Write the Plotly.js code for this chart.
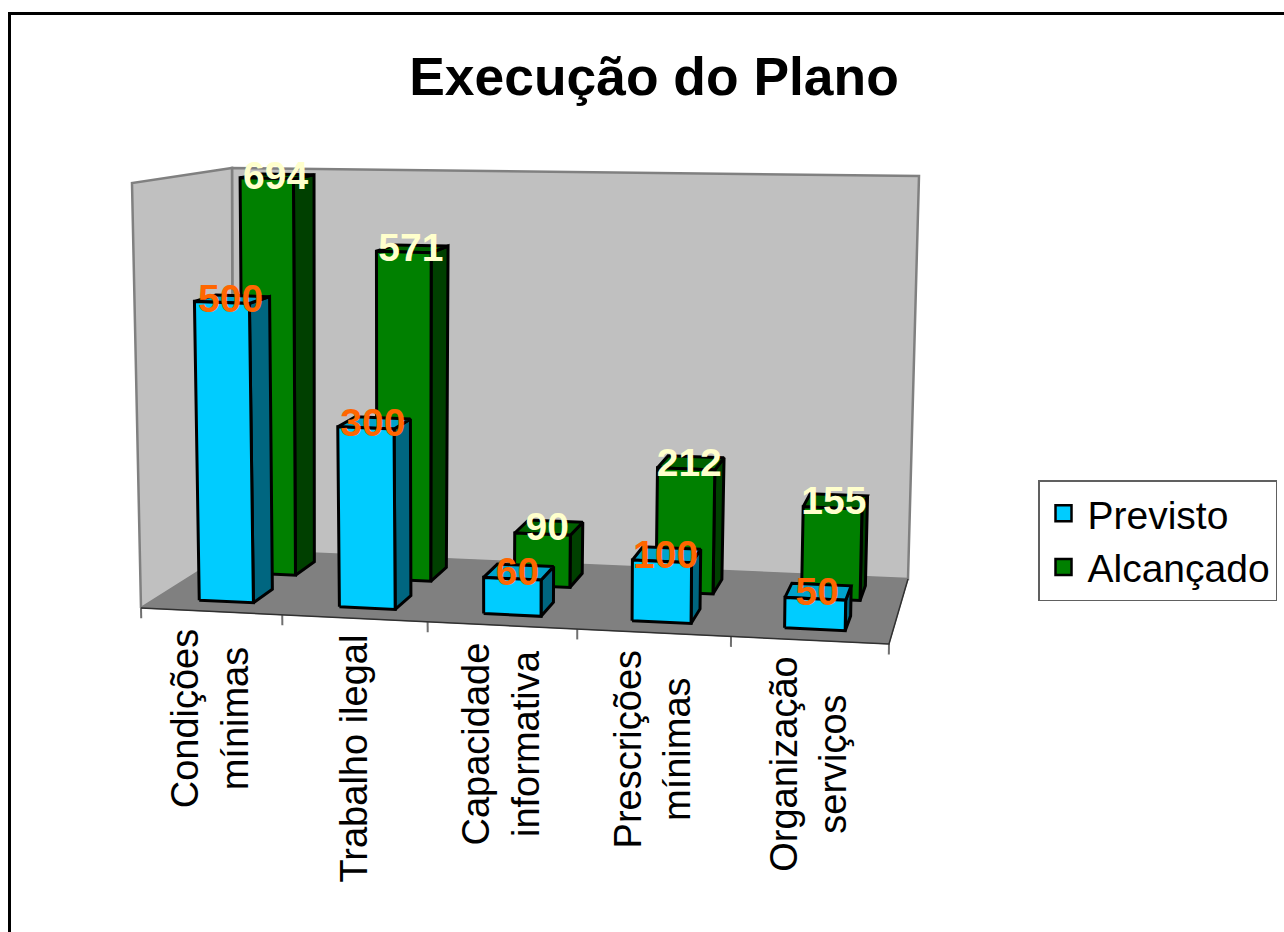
<!DOCTYPE html>
<html><head><meta charset="utf-8">
<script src="https://cdn.plot.ly/plotly-3.0.1.min.js"></script>
<style>html,body{margin:0;padding:0;background:#fff;overflow:hidden}</style>
</head><body><div id="chart" style="width:1284px;height:932px"></div>
<script>
const categories = ['Condições<br>mínimas','Trabalho ilegal','Capacidade<br>informativa','Prescrições<br>mínimas','Organização<br>serviços'];
const previsto = [500,300,60,100,50];
const alcancado = [694,571,90,212,155];
const axisMax = 700;

// 3D box of the chart, seen from the view of the picture
const C = {
  fl:[141,608], fr:[889,644], br:[908,579], bl:[233,550],
  tfl:[132,183], tfr:[896,211], tbr:[919,176], tbl:[232,168]
};
function lerp(a,b,t){return [a[0]+(b[0]-a[0])*t, a[1]+(b[1]-a[1])*t];}
// u along categories (0..1), d into depth (0..1), v in data units
function project(u,d,v){
  const w = u-0.07*u*(1-u);
  const low = lerp(lerp(C.fl,C.fr,w), lerp(C.bl,C.br,w), d);
  const top = lerp(lerp(C.tfl,C.tfr,w), lerp(C.tbl,C.tbr,w), d);
  return lerp(low,top,v/axisMax);
}
function poly(pts){
  const xs=[],ys=[];
  pts.forEach(p=>{xs.push(p[0]);ys.push(p[1]);});
  xs.push(pts[0][0]);ys.push(pts[0][1]);
  return [xs,ys];
}
function faces(values,d0,d1,hw,shift){
  const n=values.length;
  const out={front:[[],[]],side:[[],[]],top:[[],[]]};
  const add=(k,pts)=>{const p=poly(pts);out[k][0].push(...p[0],null);out[k][1].push(...p[1],null);};
  values.forEach((v,i)=>{
    const c=(i+0.5)/n+shift,a=c-hw,b=c+hw;
    add('front',[project(a,d0,0),project(b,d0,0),project(b,d0,v),project(a,d0,v)]);
    add('side',[project(b,d0,0),project(b,d1,0),project(b,d1,v),project(b,d0,v)]);
    add('top',[project(a,d0,v),project(b,d0,v),project(b,d1,v),project(a,d1,v)]);
  });
  return out;
}
function filled(xy,color,lineColor,lw){
  return {x:xy[0],y:xy[1],type:'scatter',mode:'lines',fill:'toself',fillcolor:color,
    line:{color:lineColor,width:lw},showlegend:false,hoverinfo:'skip'};
}
function labels(values,d0,d1,shift,color){
  const pts=values.map((v,i)=>project((i+0.5)/values.length+shift,(d0+d1)/2,v));
  return {x:pts.map(p=>p[0]),y:pts.map(p=>p[1]+3),text:values.map(String),type:'scatter',mode:'text',
    textposition:'middle center',textfont:{family:'Liberation Sans',size:39,color:color,weight:700},
    showlegend:false,hoverinfo:'skip'};
}
const blue=faces(previsto,0.17,0.40,0.039,0.001), green=faces(alcancado,0.64,0.87,0.0395,0.0055);
const wall=(pts)=>poly(pts);
const traces=[
  filled(wall([C.bl,C.br,C.tbr,C.tbl]),'#C0C0C0','#808080',2.5),
  filled(wall([C.fl,C.bl,C.tbl,C.tfl]),'#C0C0C0','#808080',2.5),
  filled(wall([C.fl,C.fr,C.br,C.bl]),'#808080','#808080',1)
];
// front edge and ticks
const tx=[],ty=[];
for(let i=0;i<=categories.length;i++){
  const u=i/categories.length,a=project(u,0,0),b=project(u,0,-17);
  tx.push(a[0],b[0],null);ty.push(a[1],b[1],null);
}
const fa=project(0,0,0),fb=project(1,0,0),fc=project(1,1,0);
traces.push({x:tx,y:ty,type:'scatter',mode:'lines',line:{color:'#707070',width:2},showlegend:false,hoverinfo:'skip'});
traces.push({x:[fa[0],fb[0],fc[0]],y:[fa[1],fb[1],fc[1]],type:'scatter',mode:'lines',line:{color:'#303030',width:1.5},showlegend:false,hoverinfo:'skip'});
const K='#000000',LW=3;
traces.push(filled(green.side,'#004000',K,LW),filled(green.top,'#006000',K,LW),filled(green.front,'#008000',K,LW));
traces.push(filled(blue.side,'#006680',K,LW),filled(blue.top,'#00A3CC',K,LW),filled(blue.front,'#00CCFF',K,LW));
traces.push(labels(alcancado,0.64,0.87,0.003,'#FFFFCC'),labels(previsto,0.17,0.38,0,'#FF6600'));
// legend entries
traces.push({x:[null],y:[null],type:'scatter',mode:'markers',name:'Previsto',marker:{symbol:'square',size:22,color:'#00CCFF',line:{color:K,width:2.5}}});
traces.push({x:[null],y:[null],type:'scatter',mode:'markers',name:'Alcançado',marker:{symbol:'square',size:22,color:'#008000',line:{color:K,width:2.5}}});

const annotations=categories.map((c,i)=>{
  const p=project((i+0.5)/categories.length,0,-24);
  return {x:p[0],y:p[1],xref:'x',yref:'y',xshift:-1,text:c,showarrow:false,textangle:-90,xanchor:'center',yanchor:'top',
    font:{family:'Liberation Sans',size:38,color:'#000'},align:'center'};
});
const layout={
  width:1284,height:932,margin:{l:0,r:0,t:0,b:0},paper_bgcolor:'#fff',plot_bgcolor:'#fff',
  title:{text:'<b>Execução do Plano</b>',x:654/1284,xanchor:'center',y:1-76/932,yanchor:'middle',
    font:{family:'Liberation Sans',size:53.4,color:'#000'}},
  xaxis:{range:[0,1284],visible:false,fixedrange:true},
  yaxis:{range:[932,0],visible:false,fixedrange:true},
  showlegend:true,
  legend:{x:1038/1284,y:1-480/932,xanchor:'left',yanchor:'top',bordercolor:'#606060',borderwidth:1.5,bgcolor:'#fff',
    font:{family:'Liberation Sans',size:39,color:'#000'},itemwidth:38},
  annotations:annotations,
  shapes:[{type:'rect',xref:'paper',yref:'paper',x0:9.5/1284,x1:1.1,y0:-0.1,y1:1-13.5/932,line:{color:'#000',width:3},fillcolor:'rgba(0,0,0,0)',layer:'below'}]
};
Plotly.newPlot('chart',traces,layout,{displayModeBar:false,responsive:false});
</script></body></html>
